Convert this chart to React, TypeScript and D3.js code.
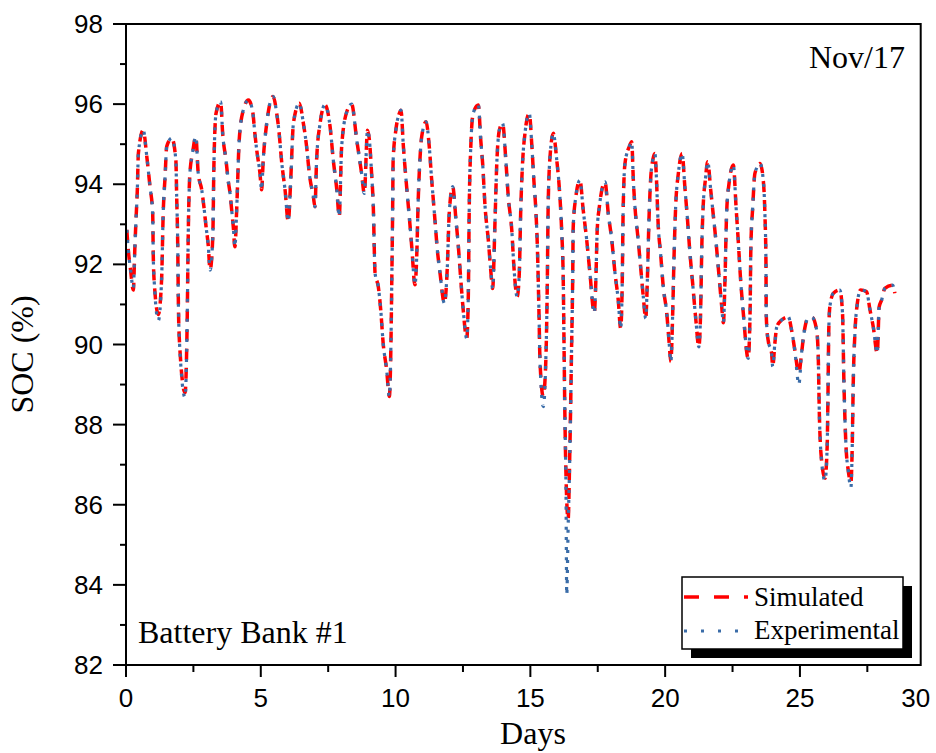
import React from "react";
import * as d3 from "d3";

// ---- data ----
const days: number[] = [
  0.03, 0.085, 0.17, 0.27, 0.33, 0.37, 0.42, 0.46, 0.64, 0.77, 0.89, 0.99, 1.01, 1.05, 1.2, 1.32, 1.38, 1.45, 1.51, 1.7,
  1.85, 1.88, 1.92, 1.94, 1.98, 2.19, 2.27, 2.31, 2.37, 2.47, 2.59, 2.68, 2.81, 2.89, 2.97, 3.05, 3.12, 3.22, 3.26, 3.34,
  3.51, 3.59, 3.71, 3.79, 3.86, 3.92, 3.98, 4.04, 4.11, 4.2, 4.35, 4.54, 4.7, 4.78, 4.85, 4.97, 5.03, 5.09, 5.22, 5.46,
  5.59, 5.67, 5.78, 5.9, 6.02, 6.11, 6.21, 6.43, 6.58, 6.7, 6.8, 6.95, 7.01, 7.07, 7.2, 7.38, 7.57, 7.69, 7.82, 7.91,
  8.0, 8.19, 8.37, 8.56, 8.74, 8.84, 8.96, 9.03, 9.11, 9.17, 9.24, 9.36, 9.45, 9.54, 9.67, 9.77, 9.83, 9.86, 9.89, 9.91,
  10.01, 10.14, 10.2, 10.29, 10.41, 10.53, 10.6, 10.72, 10.78, 10.84, 10.91, 10.97, 11.13, 11.25, 11.34, 11.4, 11.46, 11.55, 11.65, 11.81,
  11.92, 11.99, 12.12, 12.24, 12.33, 12.42, 12.51, 12.64, 12.7, 12.73, 12.79, 12.88, 13.07, 13.16, 13.23, 13.32, 13.44, 13.53, 13.6, 13.69,
  13.75, 13.85, 13.97, 14.09, 14.18, 14.31, 14.39, 14.51, 14.59, 14.64, 14.71, 14.8, 14.96, 15.05, 15.13, 15.21, 15.26, 15.32, 15.36, 15.48,
  15.57, 15.63, 15.66, 15.73, 15.85, 15.98, 16.07, 16.16, 16.22, 16.25, 16.28, 16.32, 16.35, 16.4, 16.46, 16.53, 16.57, 16.59, 16.69, 16.84,
  16.96, 17.09, 17.21, 17.37, 17.43, 17.48, 17.56, 17.77, 17.89, 18.02, 18.14, 18.26, 18.35, 18.41, 18.44, 18.51, 18.67, 18.76, 18.82, 18.88,
  19.0, 19.09, 19.19, 19.28, 19.34, 19.4, 19.46, 19.54, 19.62, 19.68, 19.74, 19.83, 19.93, 20.06, 20.15, 20.21, 20.28, 20.33, 20.39, 20.49,
  20.63, 20.73, 20.83, 20.92, 21.02, 21.14, 21.25, 21.32, 21.36, 21.41, 21.49, 21.58, 21.69, 21.78, 21.88, 21.99, 22.1, 22.16, 22.22, 22.28,
  22.37, 22.53, 22.63, 22.71, 22.8, 22.9, 23.08, 23.15, 23.18, 23.25, 23.33, 23.52, 23.64, 23.7, 23.74, 23.75, 23.77, 23.82, 23.95, 23.99,
  24.07, 24.14, 24.32, 24.57, 24.69, 24.81, 24.96, 25.06, 25.15, 25.3, 25.45, 25.62, 25.68, 25.72, 25.78, 25.93, 26.01, 26.04, 26.07, 26.11,
  26.24, 26.48, 26.58, 26.63, 26.71, 26.79, 26.89, 26.94, 26.98, 27.04, 27.13, 27.25, 27.47, 27.6, 27.72, 27.87, 27.94, 28.03, 28.15, 28.44,
  28.52,
];

const simulated: number[] = [
  92.86, 92.36, 91.86, 91.36, 92.44, 93.1, 93.86, 94.78, 95.35, 94.7, 93.94, 93.28, 92.28, 91.53, 90.75, 91.61, 93.28, 94.19, 94.94, 95.15,
  94.6, 93.69, 92.44, 91.19, 90.11, 88.8, 90.61, 92.78, 94.27, 94.78, 95.19, 94.27, 93.86, 93.44, 92.94, 92.48, 91.86, 92.69, 94.44, 95.77,
  96.06, 95.23, 94.6, 94.1, 93.77, 93.36, 92.94, 92.44, 93.44, 95.1, 95.85, 96.1, 95.81, 95.27, 94.85, 94.27, 93.86, 94.6, 95.52, 96.19,
  95.77, 95.35, 94.52, 93.86, 93.07, 94.1, 95.52, 96.02, 95.52, 94.94, 94.27, 93.69, 93.44, 94.6, 95.52, 95.98, 95.44, 94.6, 93.86, 93.19,
  94.94, 95.81, 96.0, 95.1, 94.27, 93.77, 95.35, 95.1, 94.27, 93.52, 91.78, 91.44, 90.86, 90.03, 89.36, 88.7, 90.11, 91.61, 93.27, 94.6,
  95.35, 95.77, 95.85, 94.94, 93.94, 93.02, 92.44, 91.49, 92.11, 93.61, 94.69, 95.19, 95.56, 94.94, 94.1, 93.61, 93.11, 92.36, 91.78, 91.03,
  91.94, 93.27, 93.94, 93.11, 92.44, 91.61, 90.86, 90.15, 91.28, 93.27, 94.94, 95.77, 95.98, 95.1, 94.52, 93.44, 92.61, 91.86, 91.4, 93.11,
  94.44, 95.35, 95.52, 94.6, 93.69, 92.86, 91.94, 91.19, 91.78, 93.27, 94.52, 95.27, 95.77, 95.02, 94.1, 93.27, 92.44, 90.78, 89.53, 88.7,
  89.53, 91.61, 93.44, 94.69, 95.27, 94.6, 93.94, 92.86, 91.61, 89.94, 88.28, 86.8, 86.1, 85.62, 87.2, 89.94, 91.61, 92.94, 93.7, 94.1,
  93.36, 92.61, 91.78, 90.78, 91.61, 92.86, 93.44, 94.06, 93.27, 92.61, 91.78, 91.11, 90.4, 91.61, 93.27, 94.52, 94.94, 95.06, 94.1, 93.44,
  92.61, 91.94, 91.19, 90.65, 91.61, 93.11, 94.1, 94.6, 94.77, 94.1, 93.02, 92.28, 91.44, 90.78, 90.03, 89.57, 90.78, 92.19, 93.44, 94.27,
  94.77, 93.94, 93.11, 92.28, 91.53, 90.61, 89.94, 90.94, 92.44, 93.44, 94.1, 94.56, 93.86, 93.27, 92.61, 91.78, 90.94, 90.54, 91.61, 93.27,
  94.02, 94.48, 93.44, 92.61, 91.61, 90.78, 89.65, 90.78, 92.44, 93.44, 94.27, 94.52, 94.1, 93.27, 92.03, 90.78, 90.44, 90.11, 89.78, 89.45,
  90.03, 90.44, 90.61, 90.69, 90.36, 89.86, 89.28, 89.78, 90.28, 90.66, 90.68, 90.36, 89.69, 88.28, 87.28, 86.66, 87.45, 88.7, 90.36, 90.94,
  91.28, 91.36, 90.78, 89.11, 87.45, 86.87, 86.55, 87.45, 89.11, 90.28, 91.03, 91.36, 91.32, 90.86, 90.44, 89.78, 90.94, 91.11, 91.4, 91.48,
  91.28,
];

const experimental: number[] = [
  92.86, 92.36, 91.86, 91.4, 92.44, 93.1, 93.86, 94.78, 95.35, 94.7, 93.94, 93.28, 92.28, 91.53, 90.6, 91.61, 93.28, 94.19, 94.94, 95.15,
  94.6, 93.69, 92.44, 91.19, 90.11, 88.68, 90.61, 92.78, 94.27, 94.78, 95.19, 94.27, 93.86, 93.44, 92.94, 92.48, 91.86, 92.69, 94.44, 95.77,
  96.06, 95.23, 94.6, 94.1, 93.77, 93.36, 92.94, 92.44, 93.44, 95.1, 95.85, 96.1, 95.81, 95.27, 94.85, 94.27, 93.86, 94.6, 95.52, 96.19,
  95.77, 95.35, 94.52, 93.86, 93.07, 94.1, 95.52, 96.02, 95.52, 94.94, 94.27, 93.69, 93.44, 94.6, 95.52, 95.98, 95.44, 94.6, 93.86, 93.19,
  94.94, 95.81, 96.0, 95.1, 94.27, 93.77, 95.35, 95.1, 94.27, 93.52, 91.78, 91.44, 90.86, 90.03, 89.36, 88.7, 90.11, 91.61, 93.27, 94.6,
  95.35, 95.77, 95.85, 94.94, 93.94, 93.02, 92.44, 91.49, 92.11, 93.61, 94.69, 95.19, 95.56, 94.94, 94.1, 93.61, 93.11, 92.36, 91.78, 91.03,
  91.94, 93.27, 93.94, 93.11, 92.44, 91.61, 90.86, 90.15, 91.28, 93.27, 94.94, 95.77, 95.98, 95.1, 94.52, 93.44, 92.61, 91.86, 91.4, 93.11,
  94.44, 95.35, 95.52, 94.6, 93.69, 92.86, 91.94, 91.19, 91.78, 93.27, 94.52, 95.27, 95.77, 95.02, 94.1, 93.27, 92.44, 90.78, 89.53, 88.45,
  89.53, 91.61, 93.44, 94.69, 95.27, 94.6, 93.94, 92.86, 91.61, 89.94, 88.28, 86.5, 83.75, 85.4, 87.1, 89.94, 91.61, 92.94, 93.7, 94.1,
  93.36, 92.61, 91.78, 90.78, 91.61, 92.86, 93.44, 94.06, 93.27, 92.61, 91.78, 91.11, 90.4, 91.61, 93.27, 94.52, 94.94, 95.06, 94.1, 93.44,
  92.61, 91.94, 91.19, 90.65, 91.61, 93.11, 94.1, 94.6, 94.77, 94.1, 93.02, 92.28, 91.44, 90.78, 90.03, 89.57, 90.78, 92.19, 93.44, 94.27,
  94.77, 93.94, 93.11, 92.28, 91.53, 90.61, 89.94, 90.94, 92.44, 93.44, 94.1, 94.56, 93.86, 93.27, 92.61, 91.78, 90.94, 90.54, 91.61, 93.27,
  94.02, 94.48, 93.44, 92.61, 91.61, 90.78, 89.65, 90.78, 92.44, 93.44, 94.27, 94.52, 94.1, 93.27, 92.03, 90.78, 90.44, 90.11, 89.78, 89.45,
  90.03, 90.44, 90.61, 90.69, 90.36, 89.86, 89.0, 89.78, 90.28, 90.66, 90.68, 90.36, 89.69, 88.28, 87.28, 86.6, 87.45, 88.7, 90.36, 90.94,
  91.28, 91.36, 90.78, 89.11, 87.45, 86.87, 86.42, 87.45, 89.11, 90.28, 91.03, 91.36, 91.32, 90.86, 90.44, 89.78, 90.94, 91.11, 91.4, 91.48,
  91.28,
];

const xTickValues: number[] = [0, 5, 10, 15, 20, 25, 30];
const xTickLabels: string[] = ["0", "5", "10", "15", "20", "25", "30"];
const yTickValues: number[] = [82, 84, 86, 88, 90, 92, 94, 96, 98];
const yTickLabels: string[] = ["82", "84", "86", "88", "90", "92", "94", "96", "98"];
const seriesNames: string[] = ["Simulated", "Experimental"];

const W = 936;
const H = 753;
const M = { left: 126, right: 920.7, top: 24, bottom: 665 };
const X_MAX = 29.48;

const SERIF = "'Liberation Serif', 'Times New Roman', serif";
const SANS = "'Liberation Sans', Arial, sans-serif";
const RED = "#ff0000";
const BLUE = "#3a6ca8";

export default function App() {
  const x = d3.scaleLinear().domain([0, X_MAX]).range([M.left, M.right]);
  const y = d3.scaleLinear().domain([82, 98]).range([M.bottom, M.top]);

  const simPts = days.map((d, i) => [d, simulated[i]] as [number, number]);
  const expPts = days.map((d, i) => [d, experimental[i]] as [number, number]);
  const line = d3
    .line<[number, number]>()
    .x((d) => x(d[0]))
    .y((d) => y(d[1]))
    .curve(d3.curveMonotoneX);

  const minorX = d3.range(2.5, X_MAX, 5);
  const minorY = d3.range(83, 98, 2);

  const legX = 682;
  const legY = 577;
  const legW = 221;
  const legH = 72;

  return (
    <svg
      width={W}
      height={H}
      style={{ position: "absolute", left: 0, top: 0, background: "#fff" }}
    >
      <rect x={0} y={0} width={W} height={H} fill="#fff" />

      {/* data lines */}
      <path d={line(simPts) || ""} fill="none" stroke={RED} strokeWidth={3.5} strokeDasharray="11,8" />
      <path d={line(expPts) || ""} fill="none" stroke={BLUE} strokeWidth={3.2} strokeDasharray="3,7" />

      {/* frame */}
      <rect
        x={M.left}
        y={M.top}
        width={M.right - M.left}
        height={M.bottom - M.top}
        fill="none"
        stroke="#000"
        strokeWidth={2}
      />

      {/* x ticks */}
      {xTickValues.filter((v) => v <= X_MAX).map((v) => (
        <line key={"xt" + v} x1={x(v)} x2={x(v)} y1={M.bottom} y2={M.bottom + 12} stroke="#000" strokeWidth={2} />
      ))}
      {minorX.map((v) => (
        <line key={"xm" + v} x1={x(v)} x2={x(v)} y1={M.bottom} y2={M.bottom + 7} stroke="#000" strokeWidth={2} />
      ))}
      {xTickValues.map((v, i) => (
        <text
          key={"xl" + v}
          x={Math.min(x(v), M.right - 5)}
          y={707}
          fontFamily={SANS}
          fontSize={26}
          textAnchor="middle"
          fill="#000"
        >
          {xTickLabels[i]}
        </text>
      ))}

      {/* y ticks */}
      {yTickValues.map((v) => (
        <line key={"yt" + v} x1={M.left - 13} x2={M.left} y1={y(v)} y2={y(v)} stroke="#000" strokeWidth={2} />
      ))}
      {minorY.map((v) => (
        <line key={"ym" + v} x1={M.left - 6} x2={M.left} y1={y(v)} y2={y(v)} stroke="#000" strokeWidth={2} />
      ))}
      {yTickValues.map((v, i) => (
        <text
          key={"yl" + v}
          x={103}
          y={y(v) + 9}
          fontFamily={SANS}
          fontSize={26}
          textAnchor="end"
          fill="#000"
        >
          {yTickLabels[i]}
        </text>
      ))}

      {/* axis titles */}
      <text x={533} y={744} fontFamily={SERIF} fontSize={32} textAnchor="middle" fill="#000">
        Days
      </text>
      <text
        transform={`translate(33, ${(M.top + M.bottom) / 2 + 10}) rotate(-90)`}
        fontFamily={SERIF}
        fontSize={32}
        textAnchor="middle"
        fill="#000"
      >
        SOC (%)
      </text>

      {/* annotations */}
      <text x={905} y={68} fontFamily={SERIF} fontSize={32} textAnchor="end" fill="#000">
        Nov/17
      </text>
      <text x={138} y={643} fontFamily={SERIF} fontSize={32} fill="#000">
        Battery Bank #1
      </text>

      {/* legend */}
      <rect x={legX + 9} y={legY + 9} width={legW} height={legH} fill="#000" />
      <rect x={legX} y={legY} width={legW} height={legH} fill="#fff" stroke="#000" strokeWidth={1.5} />
      <line x1={legX + 2} x2={legX + 66} y1={legY + 20} y2={legY + 20} stroke={RED} strokeWidth={3.5} strokeDasharray="15,15" />
      <line x1={legX + 2} x2={legX + 66} y1={legY + 54} y2={legY + 54} stroke={BLUE} strokeWidth={3.2} strokeDasharray="3,14" />
      <text x={legX + 72} y={legY + 29} fontFamily={SERIF} fontSize={27} fill="#000">
        {seriesNames[0]}
      </text>
      <text x={legX + 72} y={legY + 62} fontFamily={SERIF} fontSize={27} fill="#000">
        {seriesNames[1]}
      </text>
    </svg>
  );
}
